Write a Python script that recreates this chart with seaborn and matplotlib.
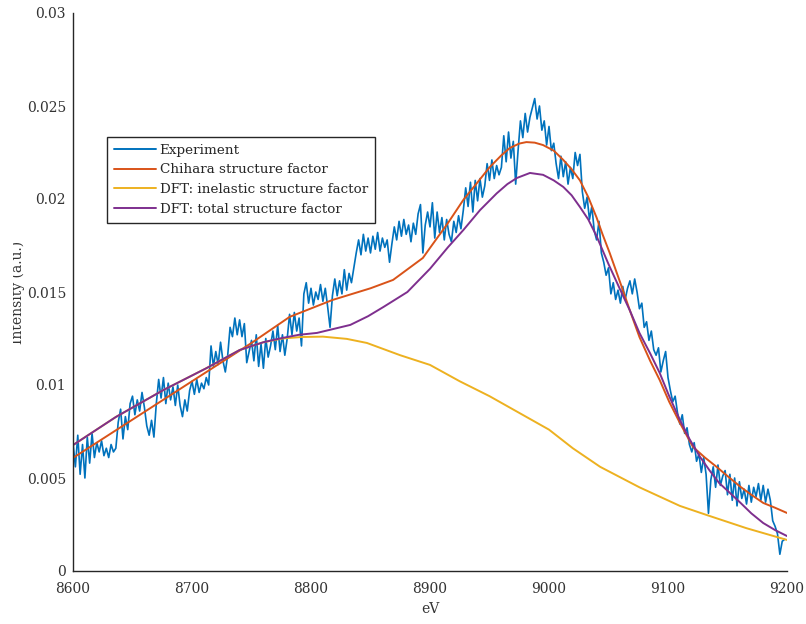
import matplotlib
matplotlib.use("Agg")
import matplotlib.pyplot as plt
from matplotlib.patches import Rectangle
import numpy as np
import pandas as pd
import seaborn as sns

# Measured spectrum on a 2 eV grid starting at 8600 eV (a.u.)
exp_start_ev = 8600
exp_step_ev = 2
exp_int = [
    0.0069, 0.0056, 0.0073, 0.0052, 0.0068,  0.0050, 0.0072, 0.0058, 0.0074, 0.0061,
    0.0069, 0.0064, 0.0070, 0.0062, 0.0066,  0.0061, 0.0068, 0.0064, 0.0066, 0.0080,
    0.0087, 0.0071, 0.0083, 0.0076, 0.0090,  0.0094, 0.0084, 0.0092, 0.0086, 0.0096,
    0.0088, 0.0078, 0.0073, 0.0081, 0.0072,  0.0090, 0.0103, 0.0093, 0.0104, 0.0090,
    0.0101, 0.0092, 0.0099, 0.0089, 0.0100,  0.0089, 0.0083, 0.0092, 0.0086, 0.0097,
    0.0102, 0.0095, 0.0103, 0.0096, 0.0101,  0.0098, 0.0104, 0.0100, 0.0121, 0.0110,
    0.0118, 0.0111, 0.0123, 0.0113, 0.0107,  0.0116, 0.0131, 0.0126, 0.0136, 0.0127,
    0.0135, 0.0126, 0.0133, 0.0112, 0.0118,  0.0124, 0.0113, 0.0127, 0.0110, 0.0122,
    0.0109, 0.0125, 0.0115, 0.0121, 0.0129,  0.0119, 0.0132, 0.0118, 0.0127, 0.0116,
    0.0125, 0.0138, 0.0127, 0.0139, 0.0129,  0.0136, 0.0121, 0.0149, 0.0155, 0.0144,
    0.0152, 0.0143, 0.0150, 0.0146, 0.0154,  0.0145, 0.0152, 0.0142, 0.0131, 0.0148,
    0.0157, 0.0148, 0.0156, 0.0149, 0.0162,  0.0151, 0.0160, 0.0155, 0.0163, 0.0171,
    0.0178, 0.0170, 0.0181, 0.0172, 0.0179,  0.0171, 0.0180, 0.0173, 0.0182, 0.0172,
    0.0179, 0.0174, 0.0178, 0.0166, 0.0176,  0.0185, 0.0178, 0.0188, 0.0180, 0.0189,
    0.0181, 0.0186, 0.0177, 0.0187, 0.0181,  0.0192, 0.0197, 0.0171, 0.0186, 0.0193,
    0.0185, 0.0198, 0.0179, 0.0193, 0.0182,  0.0190, 0.0178, 0.0189, 0.0181, 0.0177,
    0.0188, 0.0182, 0.0191, 0.0184, 0.0194,  0.0206, 0.0196, 0.0209, 0.0193, 0.0210,
    0.0199, 0.0211, 0.0201, 0.0207, 0.0219,  0.0210, 0.0221, 0.0211, 0.0218, 0.0213,
    0.0217, 0.0234, 0.0220, 0.0236, 0.0222,  0.0231, 0.0208, 0.0226, 0.0242, 0.0233,
    0.0246, 0.0236, 0.0244, 0.0249, 0.0254,  0.0243, 0.0250, 0.0237, 0.0242, 0.0229,
    0.0239, 0.0226, 0.0230, 0.0219, 0.0211,  0.0223, 0.0212, 0.0220, 0.0208, 0.0217,
    0.0211, 0.0225, 0.0218, 0.0224, 0.0204,  0.0195, 0.0201, 0.0189, 0.0196, 0.0183,
    0.0178, 0.0188, 0.0171, 0.0166, 0.0159,  0.0163, 0.0149, 0.0155, 0.0146, 0.0151,
    0.0144, 0.0153, 0.0146, 0.0152, 0.0156,  0.0149, 0.0157, 0.0150, 0.0141, 0.0144,
    0.0131, 0.0134, 0.0124, 0.0129, 0.0119,  0.0116, 0.0120, 0.0107, 0.0113, 0.0118,
    0.0104, 0.0097, 0.0091, 0.0094, 0.0085,  0.0079, 0.0084, 0.0074, 0.0077, 0.0068,
    0.0064, 0.0069, 0.0059, 0.0063, 0.0053,  0.0061, 0.0052, 0.0031, 0.0049, 0.0056,
    0.0045, 0.0057, 0.0046, 0.0051, 0.0054,  0.0041, 0.0052, 0.0038, 0.0050, 0.0035,
    0.0048, 0.0039, 0.0044, 0.0036, 0.0046,  0.0037, 0.0045, 0.0040, 0.0047, 0.0038,
    0.0046, 0.0037, 0.0044, 0.0038, 0.0027,  0.0024, 0.0020, 0.0009, 0.0016, 0.0017,
]
exp_ev = exp_start_ev + exp_step_ev * np.arange(len(exp_int))

# Chihara structure factor model
chihara_ev = [8600, 8650, 8700, 8750, 8782, 8818, 8850, 8869, 8894, 8900,
              8915, 8928, 8940, 8950, 8960, 8967, 8975, 8981, 8988, 8995,
              9004, 9012, 9019, 9026, 9033, 9040, 9045, 9051, 9060, 9068,
              9076, 9085, 9093, 9101, 9110, 9121, 9131, 9141, 9151, 9161,
              9170, 9180, 9190, 9200]
chihara_int = [0.00608, 0.00814, 0.0102, 0.01226, 0.01366, 0.01457, 0.0152, 0.01565, 0.01683, 0.01737,
               0.0187, 0.01995, 0.0209, 0.0217, 0.02235, 0.02274, 0.02298, 0.02306, 0.02303, 0.0229,
               0.0226, 0.0221, 0.0216, 0.0210, 0.0201, 0.0190, 0.0181, 0.0171, 0.01548, 0.0140,
               0.01258, 0.0113, 0.01027, 0.0091, 0.00796, 0.00667, 0.0061, 0.00559, 0.00505, 0.00452,
               0.0041, 0.00366, 0.0034, 0.00312]

# DFT inelastic structure factor
inel_ev = [8600, 8636, 8676, 8712, 8740, 8760, 8776, 8792, 8810, 8830,
           8847, 8875, 8900, 8925, 8950, 8975, 9000, 9020, 9043, 9076,
           9110, 9133, 9166, 9200]
inel_int = [0.00677, 0.00828, 0.00973, 0.0109, 0.01188, 0.0123, 0.0125, 0.01258, 0.0126, 0.01248,
            0.01226, 0.0116, 0.01108, 0.0102, 0.0094, 0.0085, 0.0076, 0.0066, 0.0056, 0.0045,
            0.0035, 0.0030, 0.0023, 0.00167]

# DFT total structure factor
total_ev = [8600, 8636, 8676, 8712, 8740, 8760, 8776, 8790, 8805, 8833,
            8848, 8861, 8881, 8900, 8915, 8928, 8942, 8956, 8965, 8973,
            8984, 8995, 9004, 9012, 9019, 9026, 9033, 9040, 9050, 9060,
            9068, 9076, 9085, 9093, 9101, 9110, 9118, 9127, 9135, 9143,
            9152, 9161, 9170, 9180, 9190, 9200]
total_int = [0.00677, 0.00828, 0.00973, 0.0109, 0.01188, 0.0123, 0.01253, 0.0127, 0.0128, 0.01323,
             0.0137, 0.0142, 0.0150, 0.01625, 0.0174, 0.01833, 0.0194, 0.0203, 0.0208, 0.02113,
             0.0214, 0.0213, 0.0210, 0.02065, 0.0202, 0.01957, 0.0189, 0.0180, 0.0165, 0.0151,
             0.0140, 0.0128, 0.0117, 0.01065, 0.0094, 0.00812, 0.0071, 0.00613, 0.0054, 0.00473,
             0.0042, 0.00366, 0.0031, 0.00258, 0.0022, 0.00188]

x_ticks = [8600, 8700, 8800, 8900, 9000, 9100, 9200]
y_ticks = [0, 0.005, 0.01, 0.015, 0.02, 0.025, 0.03]
y_tick_labels = ["0", "0.005", "0.01", "0.015", "0.02", "0.025", "0.03"]

series = [
    ("Experiment", exp_ev, exp_int, "#0072BD", 1.2),
    ("Chihara structure factor", chihara_ev, chihara_int, "#D95319", 1.4),
    ("DFT: inelastic structure factor", inel_ev, inel_int, "#EDB120", 1.4),
    ("DFT: total structure factor", total_ev, total_int, "#7E2F8E", 1.4),
]

sns.set_style("white")
plt.rcParams["font.family"] = ["DejaVu Serif"]
plt.rcParams["font.size"] = 10

fig = plt.figure(figsize=(8.06, 6.24), dpi=100)
ax = fig.add_axes([73 / 806, 1 - 571 / 624, 714 / 806, 558 / 624])

for name, ev, inten, color, lw in series:
    df = pd.DataFrame({"eV": ev, "Intensity": inten})
    sns.lineplot(data=df, x="eV", y="Intensity", ax=ax, color=color,
                 linewidth=lw, label=name, sort=False, estimator=None)

axis_color = "#262626"
ax.set_xlim(8600, 9200)
ax.set_ylim(0, 0.03)
ax.set_xticks(x_ticks)
ax.set_yticks(y_ticks)
ax.set_yticklabels(y_tick_labels)
sns.despine(ax=ax)
for side in ("left", "bottom"):
    ax.spines[side].set_color(axis_color)
    ax.spines[side].set_linewidth(1.0)
ax.tick_params(axis="both", direction="in", length=5, width=1.0,
               colors=axis_color, labelcolor="#333333", labelsize=10)
ax.tick_params(axis="x", pad=8)
ax.tick_params(axis="y", pad=5)

ax.set_xlabel("eV", fontsize=10, color="#333333")
ax.set_ylabel("Intensity (a.u.)", fontsize=10, color="#333333")
ax.xaxis.set_label_coords(0.5, -0.055)
ax.yaxis.set_label_coords((25 - 73) / 714, 0.5)

leg = ax.legend(loc="upper left", bbox_to_anchor=((107 - 73) / 714, (571 - 137) / 558),
                borderaxespad=0, frameon=True, fancybox=False, fontsize=9.7,
                handlelength=3.1, handletextpad=0.3, labelspacing=0.5,
                borderpad=0.5)
for line in leg.get_lines():
    line.set_linewidth(1.4)
frame = leg.get_frame()
frame.set_edgecolor(axis_color)
frame.set_linewidth(1.0)
frame.set_facecolor("white")
frame.set_alpha(1)

# trim the left margin of the page
fig.add_artist(Rectangle((0, 0), 13 / 806, 1, transform=fig.transFigure,
                         facecolor="white", edgecolor="none", zorder=10))

fig.savefig("out.png", dpi=100, facecolor="white")
